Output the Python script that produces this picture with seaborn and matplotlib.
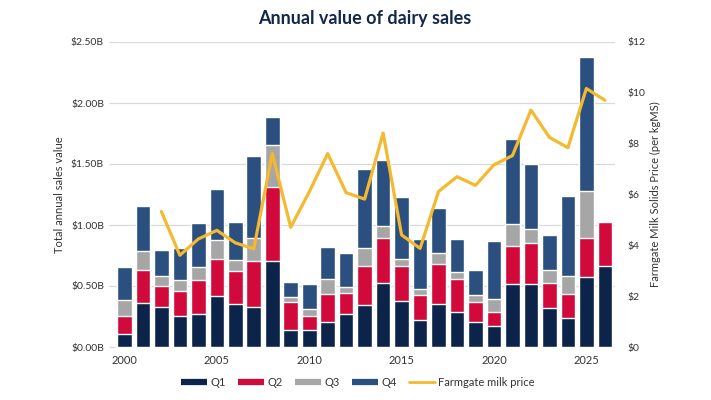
import numpy as np
import pandas as pd
import matplotlib
matplotlib.use("Agg")
import matplotlib.pyplot as plt
import seaborn as sns
from matplotlib.lines import Line2D

years = list(range(2000, 2027))

q1 = [0.110, 0.363, 0.330, 0.253, 0.269, 0.418, 0.352, 0.330, 0.703, 0.137,
      0.137, 0.209, 0.269, 0.346, 0.527, 0.379, 0.220, 0.352, 0.288, 0.203,
      0.173, 0.516, 0.519, 0.321, 0.234, 0.571, 0.665]
q2 = [0.148, 0.272, 0.170, 0.206, 0.283, 0.307, 0.269, 0.373, 0.605, 0.234,
      0.121, 0.222, 0.173, 0.322, 0.369, 0.289, 0.203, 0.327, 0.272, 0.162,
      0.115, 0.314, 0.333, 0.201, 0.197, 0.325, 0.362]
q3 = [0.127, 0.151, 0.082, 0.090, 0.102, 0.151, 0.091, 0.187, 0.346, 0.036,
      0.050, 0.124, 0.050, 0.145, 0.093, 0.057, 0.052, 0.093, 0.055, 0.064,
      0.108, 0.178, 0.115, 0.110, 0.151, 0.381, 0.0]
q4 = [0.269, 0.371, 0.215, 0.264, 0.362, 0.415, 0.310, 0.679, 0.228, 0.123,
      0.208, 0.261, 0.277, 0.649, 0.541, 0.503, 0.410, 0.368, 0.270, 0.203,
      0.469, 0.698, 0.536, 0.283, 0.657, 1.097, 0.0]

milk_price = [np.nan, np.nan, 5.33, 3.61, 4.25, 4.59, 4.10, 3.86, 7.61, 4.71,
              6.10, 7.61, 6.07, 5.82, 8.42, 4.41, 3.88, 6.12, 6.70, 6.36,
              7.17, 7.53, 9.32, 8.25, 7.84, 10.17, 9.71]

quarters = ["Q1", "Q2", "Q3", "Q4"]
colors = {"Q1": "#0c2449", "Q2": "#d20a3c", "Q3": "#a6a6a6", "Q4": "#2b4f7e"}
line_color = "#f4b92f"
text_color = "#333333"

df = pd.DataFrame({"year": years, "Q1": q1, "Q2": q2, "Q3": q3, "Q4": q4})
cum = df[quarters].cumsum(axis=1)
cum["year"] = df["year"].astype(str)

sns.set_theme(style="white")
plt.rcParams["font.family"] = ["Lato", "DejaVu Sans"]

fig = plt.figure(figsize=(7.11, 4.0), dpi=100)
ax = fig.add_axes([0.162, 0.1325, 0.703, 0.7625])

# stacked bars: draw cumulative totals from the top quarter down
for q in reversed(quarters):
    sns.barplot(data=cum, x="year", y=q, color=colors[q], width=0.79,
                saturation=1, ax=ax, zorder=2)

ax.set_ylim(0, 2.5)
ax.set_xlim(-0.5, len(years) - 0.45)
ax.set_yticks(np.arange(0, 2.51, 0.5))
ax.set_yticklabels(["$%.2fB" % v for v in np.arange(0, 2.51, 0.5)])
ax.yaxis.grid(True, color="#d9d9d9", linewidth=0.9, zorder=0)
ax.set_axisbelow(True)
tick_pos = [i for i, y in enumerate(years) if y % 5 == 0]
ax.set_xticks(tick_pos)
ax.set_xticklabels([str(years[i]) for i in tick_pos])
ax.tick_params(axis="x", labelsize=8, colors=text_color, length=0, pad=6)
ax.tick_params(axis="y", labelsize=7.5, labelcolor=text_color, length=4,
               color="#d9d9d9", width=0.9, pad=4)
ax.set_xlabel("")
ax.set_ylabel("Total annual sales value", fontsize=8, color=text_color, labelpad=4)
for s in ax.spines.values():
    s.set_visible(False)

ax2 = ax.twinx()
line_df = pd.DataFrame({"pos": np.arange(len(years)), "price": milk_price}).dropna()
sns.lineplot(data=line_df, x="pos", y="price", color=line_color, linewidth=2.3, ax=ax2)
ax2.set_ylim(0, 12)
ax2.set_yticks(np.arange(0, 13, 2))
ax2.set_yticklabels(["$%d" % v for v in np.arange(0, 13, 2)])
ax2.tick_params(axis="y", labelsize=7.5, colors=text_color, length=0, pad=9)
ax2.set_ylabel("Farmgate Milk Solids Price (per kgMS)", fontsize=8, color=text_color, labelpad=3)
ax2.set_xlabel("")
for s in ax2.spines.values():
    s.set_visible(False)

fig.text(0.513, 0.953, "Annual value of dairy sales", ha="center", va="center",
         fontsize=13, fontweight="bold", color="#14284b")

handles = [Line2D([], [], color=colors[q], linewidth=4.5, solid_capstyle="butt") for q in quarters]
handles.append(Line2D([], [], color=line_color, linewidth=2.0))
fig.legend(handles, quarters + ["Farmgate milk price"], loc="center",
           bbox_to_anchor=(0.503, 0.043), ncol=5, frameon=False, fontsize=8,
           handlelength=2.4, handletextpad=0.25, columnspacing=1.1,
           labelcolor=text_color)

fig.savefig("out.png", dpi=100)
